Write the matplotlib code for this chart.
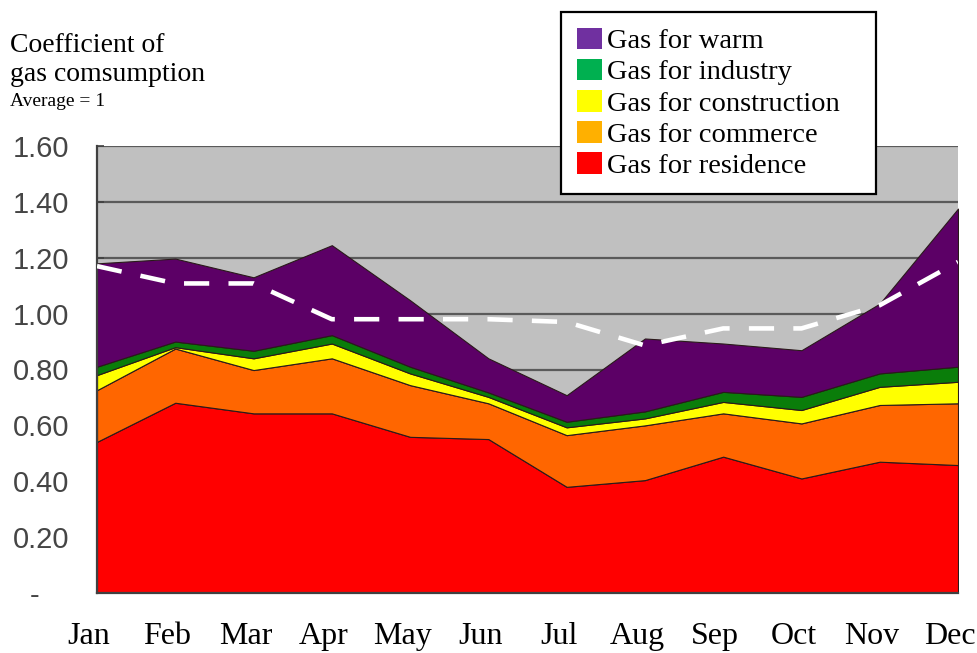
import numpy as np
import matplotlib
matplotlib.use('Agg')
import matplotlib.pyplot as plt
from matplotlib.patches import Patch
from matplotlib.transforms import ScaledTranslation

months = ['Jan', 'Feb', 'Mar', 'Apr', 'May', 'Jun',
          'Jul', 'Aug', 'Sep', 'Oct', 'Nov', 'Dec']

# monthly coefficient per use (stacked from the bottom up), average = 1
residence = [0.541, 0.681, 0.643, 0.643, 0.559, 0.551,
             0.380, 0.404, 0.488, 0.410, 0.470, 0.458]
commerce = [0.185, 0.194, 0.155, 0.197, 0.185, 0.128,
            0.185, 0.196, 0.155, 0.197, 0.203, 0.221]
construction = [0.054, 0.005, 0.042, 0.053, 0.042, 0.023,
                0.028, 0.025, 0.041, 0.048, 0.065, 0.077]
industry = [0.030, 0.020, 0.027, 0.030, 0.024, 0.016,
            0.020, 0.025, 0.036, 0.047, 0.048, 0.054]
warm = [0.370, 0.297, 0.263, 0.322, 0.238, 0.122,
        0.095, 0.261, 0.173, 0.167, 0.250, 0.566]

# average line (white dashes)
average_line = [1.170, 1.108, 1.108, 0.980, 0.980, 0.980,
                0.970, 0.886, 0.947, 0.947, 1.030, 1.185]

y_ticks = [0.0, 0.2, 0.4, 0.6, 0.8, 1.0, 1.2, 1.4, 1.6]
y_tick_labels = ['-', '0.20', '0.40', '0.60', '0.80',
                 '1.00', '1.20', '1.40', '1.60']

legend_labels = ['Gas for warm', 'Gas for industry', 'Gas for construction',
                 'Gas for commerce', 'Gas for residence']

area_colors = ['#FF0000', '#FF6600', '#FFFF00', '#0A7D0A', '#5C0066']
legend_colors = ['#7030A0', '#00B050', '#FFFF00', '#FFB000', '#FF0000']

serif = ['Liberation Serif', 'DejaVu Serif']

fig = plt.figure(figsize=(9.77, 6.53), dpi=100)
ax = fig.add_axes([97 / 977, 60 / 653, 861 / 977, 447 / 653])
ax.set_facecolor('#C0C0C0')

x = np.arange(len(months))
ax.stackplot(x, residence, commerce, construction, industry, warm,
             colors=area_colors, edgecolor='#2a1a1a', linewidth=0.8,
             zorder=2)
ax.plot(x, average_line, color='white', lw=3.3, dashes=(5.5, 4.2),
        solid_capstyle='butt', zorder=3)

ax.set_xlim(0, 11)
ax.set_ylim(0, 1.6)

ax.set_yticks(y_ticks)
ax.set_yticklabels(y_tick_labels, fontsize=21, color='#454545',
                   family=['Liberation Sans', 'DejaVu Sans'])
ax.set_xticks(x)
ax.set_xticklabels(months, fontsize=23, color='black', family=serif)

ax.tick_params(axis='y', direction='in', length=5, width=1.2,
               color='#404040', pad=20)
ax.tick_params(axis='x', direction='in', length=8, width=1.2,
               color='#404040', pad=21)

# shift month labels a little to the left
for lbl in ax.get_xticklabels():
    lbl.set_transform(lbl.get_transform()
                      + ScaledTranslation(-0.08, 0, fig.dpi_scale_trans))
# the zero dash sits further left than the numbers
zero_lbl = ax.get_yticklabels()[0]
zero_lbl.set_transform(zero_lbl.get_transform()
                       + ScaledTranslation(-0.30, 0, fig.dpi_scale_trans))

ax.yaxis.grid(True, color='#5a5a5a', lw=1.6)
ax.set_axisbelow(True)

for side in ['top', 'right']:
    ax.spines[side].set_visible(False)
for side in ['left', 'bottom']:
    ax.spines[side].set_color('#404040')
    ax.spines[side].set_linewidth(1.6)

# axis caption in the top-left corner
fig.text(10 / 977, 1 - 52 / 653, 'Coefficient of', fontsize=20,
         family=serif, va='baseline')
fig.text(10 / 977, 1 - 81 / 653, 'gas comsumption', fontsize=20,
         family=serif, va='baseline')
fig.text(10 / 977, 1 - 106 / 653, 'Average = 1', fontsize=14,
         family=serif, va='baseline')

handles = [Patch(facecolor=c, edgecolor='none') for c in legend_colors]
leg = ax.legend(handles, legend_labels, loc='upper left',
                bbox_to_anchor=(561 / 977, 1 - 196 / 653, 315 / 977,
                                184 / 653),
                bbox_transform=fig.transFigure, borderaxespad=0,
                mode='expand', frameon=True, fancybox=False,
                edgecolor='black', framealpha=1,
                prop={'family': serif, 'size': 20.5},
                handlelength=0.9, handleheight=0.8, handletextpad=0.15,
                labelspacing=0.15, borderpad=0.55)
leg.get_frame().set_linewidth(1.6)
leg.set_zorder(10)

fig.savefig('out.png', dpi=100)
